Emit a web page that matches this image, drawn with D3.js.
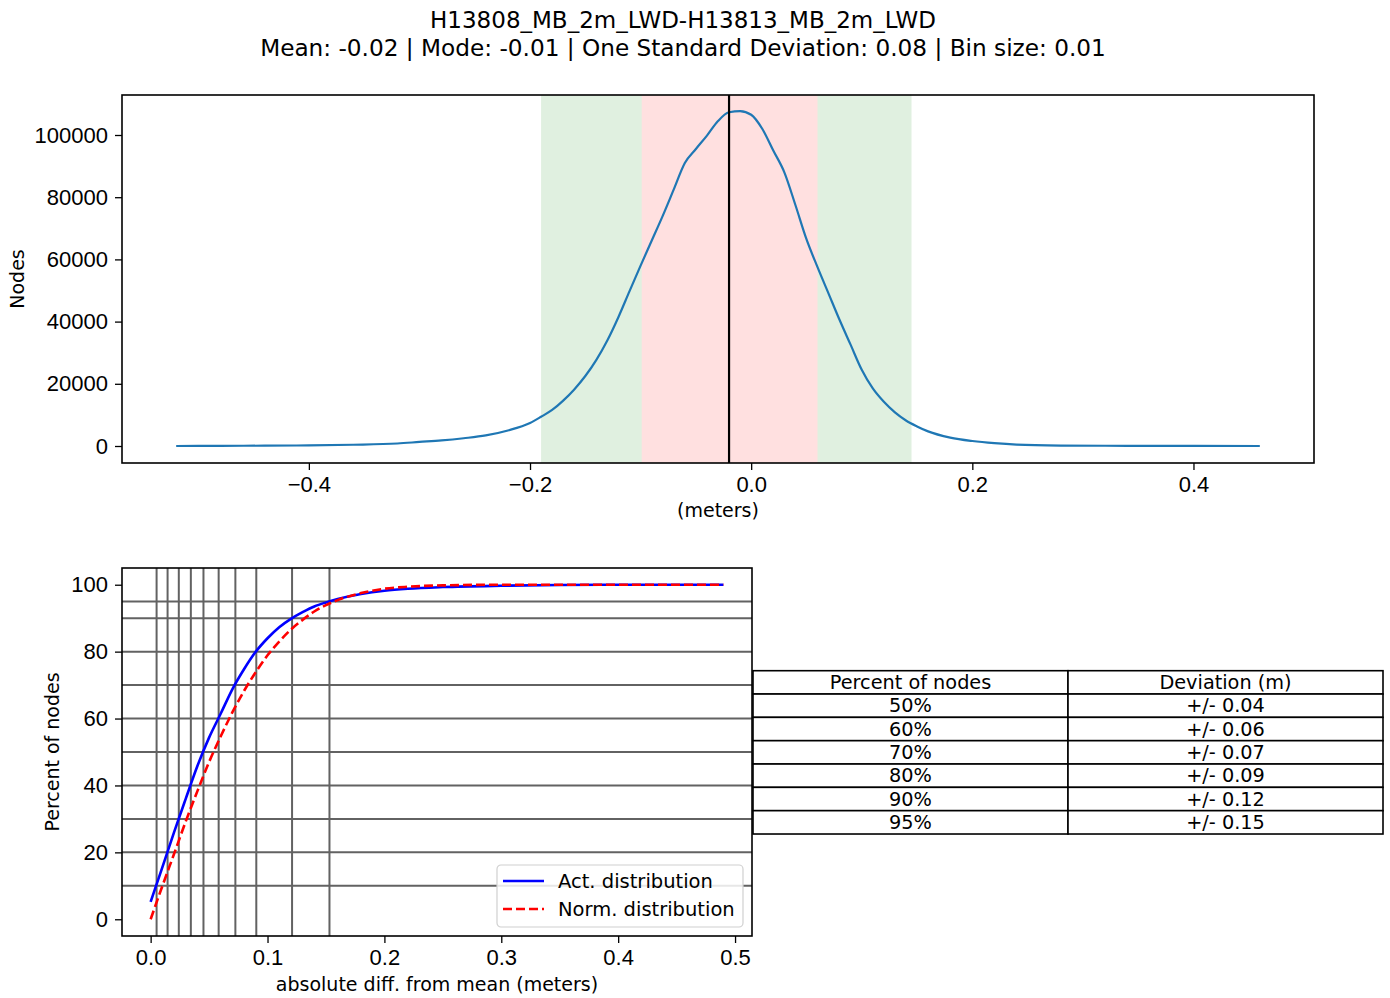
<!DOCTYPE html>
<html>
<head>
<meta charset="utf-8">
<script src="https://cdn.jsdelivr.net/npm/d3@7"></script>
<style>
  body { margin: 0; background: #fff; }
  svg { font-family: "DejaVu Sans", sans-serif; }
</style>
</head>
<body>
<svg id="chart" width="1390" height="998"></svg>
<script>
// histogram (bin centre in m, node count)
const binCenters = [-0.52, -0.48, -0.44, -0.40, -0.36, -0.32, -0.30, -0.28, -0.26, -0.24, -0.22, -0.20,
  -0.19, -0.18, -0.17, -0.16, -0.15, -0.14, -0.13, -0.12, -0.11, -0.10, -0.09, -0.08, -0.07, -0.06,
  -0.05, -0.04, -0.03, -0.02, -0.01, 0.00, 0.01, 0.02, 0.03, 0.04, 0.05, 0.06, 0.07, 0.08, 0.09,
  0.10, 0.11, 0.12, 0.13, 0.14, 0.15, 0.16, 0.18, 0.20, 0.22, 0.24, 0.28, 0.32, 0.36, 0.40, 0.46];
const nodeCounts = [0, 50, 100, 200, 400, 800, 1300, 1800, 2500, 3400, 5000, 7400,
  9400, 11600, 14600, 18200, 22500, 27700, 34000, 41500, 49800, 58000, 66000, 74000, 82500, 91000,
  95500, 99800, 104500, 107300, 107700, 106500, 102000, 95000, 88000, 77500, 66500, 57500, 49000, 40500, 32500,
  24500, 18500, 14200, 10800, 8200, 6300, 4700, 2700, 1600, 900, 450, 150, 80, 50, 20, 0];

const meanValue = -0.02;
// shaded bands (outer green, inner red)
const bandLo = [-0.19, -0.099];
const bandHi = [0.145, 0.06];
const bandColors = ["#e0f0e0", "#ffe0e0"];

const topXTicks = [-0.4, -0.2, 0.0, 0.2, 0.4];
const topYTicks = [0, 20000, 40000, 60000, 80000, 100000];

// cumulative curves
const diffX = [0.00, 0.01, 0.02, 0.03, 0.04, 0.05, 0.06, 0.07, 0.08, 0.09, 0.10, 0.11, 0.12, 0.13,
  0.14, 0.15, 0.16, 0.18, 0.20, 0.22, 0.25, 0.30, 0.35, 0.40, 0.49];
const actPercent = [5.2, 15.5, 26, 36, 45.8, 54.3, 61.5, 68.8, 74.8, 80, 84, 87.3, 89.8, 91.8,
  93.5, 94.7, 95.7, 97.2, 98.2, 98.8, 99.3, 99.7, 99.9, 100, 100];
const normPercent = [0, 9.9, 19.5, 29.2, 38.3, 47, 54.7, 61.9, 68.3, 73.9, 78.9, 83.0, 86.6, 89.5,
  92.0, 93.9, 95.4, 97.5, 98.8, 99.4, 99.8, 100, 100, 100, 100];

const percentLevels = [10, 20, 30, 40, 50, 60, 70, 80, 90, 95];
const percentDevs = [0.0051, 0.0145, 0.0241, 0.0344, 0.0452, 0.0582, 0.0725, 0.0904, 0.121, 0.153];

const bottomXTicks = [0.0, 0.1, 0.2, 0.3, 0.4, 0.5];
const bottomYTicks = [0, 20, 40, 60, 80, 100];

const tableHeader = ["Percent of nodes", "Deviation (m)"];
const tablePercents = ["50%", "60%", "70%", "80%", "90%", "95%"];
const tableDevs = ["+/- 0.04", "+/- 0.06", "+/- 0.07", "+/- 0.09", "+/- 0.12", "+/- 0.15"];

const svg = d3.select("#chart");
const FS = 19;
const TICK_FS = 22;

// titre
svg.append("text").attr("x", 683).attr("y", 28).attr("text-anchor", "middle")
  .style("font-size", "23px").text("H13808_MB_2m_LWD-H13813_MB_2m_LWD");
svg.append("text").attr("x", 683).attr("y", 56).attr("text-anchor", "middle")
  .style("font-size", "23.2px")
  .text("Mean: -0.02 | Mode: -0.01 | One Standard Deviation: 0.08 | Bin size: 0.01");

function styleAxis(sel) {
  sel.select(".domain").remove();
  sel.selectAll(".tick line").attr("stroke", "#000").attr("stroke-width", 1.3);
  sel.selectAll(".tick text").style("font-size", TICK_FS + "px").attr("fill", "#000");
}

// ---- top histogram ----
const t = { left: 122, top: 95, w: 1192, h: 368 };
const gt = svg.append("g").attr("transform", `translate(${t.left},${t.top})`);
const xT = d3.scaleLinear().domain([-0.569, 0.509]).range([0, t.w]);
const yT = d3.scaleLinear().domain([-5466, 112862]).range([t.h, 0]);

gt.selectAll(".band")
  .data(bandLo.map((lo, i) => ({ lo, hi: bandHi[i], c: bandColors[i] })))
  .enter().append("rect")
  .attr("x", d => xT(d.lo)).attr("width", d => xT(d.hi) - xT(d.lo))
  .attr("y", 0).attr("height", t.h).attr("fill", d => d.c);

gt.append("path")
  .datum(binCenters.map((x, i) => [x, nodeCounts[i]]))
  .attr("fill", "none").attr("stroke", "#1f77b4").attr("stroke-width", 2.2)
  .attr("d", d3.line().x(d => xT(d[0])).y(d => yT(d[1])).curve(d3.curveMonotoneX));

gt.append("line")
  .attr("x1", xT(meanValue)).attr("x2", xT(meanValue))
  .attr("y1", 0).attr("y2", t.h).attr("stroke", "#000").attr("stroke-width", 2.2);

gt.append("g").attr("transform", `translate(0,${t.h})`)
  .call(d3.axisBottom(xT).tickValues(topXTicks).tickFormat(d3.format(".1f")).tickSize(7).tickPadding(6))
  .call(styleAxis);
gt.append("g")
  .call(d3.axisLeft(yT).tickValues(topYTicks).tickFormat(d3.format("d")).tickSize(7).tickPadding(7))
  .call(styleAxis);
gt.append("rect").attr("width", t.w).attr("height", t.h)
  .attr("fill", "none").attr("stroke", "#000").attr("stroke-width", 1.6);

svg.append("text").attr("x", t.left + t.w / 2).attr("y", 517).attr("text-anchor", "middle")
  .style("font-size", FS + "px").text("(meters)");
svg.append("text").attr("transform", `translate(24,${t.top + t.h / 2}) rotate(-90)`)
  .attr("text-anchor", "middle").style("font-size", FS + "px").text("Nodes");

// ---- bottom cumulative ----
const b = { left: 122, top: 568, w: 630, h: 368 };
const gb = svg.append("g").attr("transform", `translate(${b.left},${b.top})`);
const xB = d3.scaleLinear().domain([-0.0245, 0.5145]).range([0, b.w]);
const yB = d3.scaleLinear().domain([-5, 105]).range([b.h, 0]);

gb.selectAll(".hline").data(percentLevels).enter().append("line")
  .attr("x1", 0).attr("x2", b.w).attr("y1", d => yB(d)).attr("y2", d => yB(d))
  .attr("stroke", "#626262").attr("stroke-width", 2);
gb.selectAll(".vline").data(percentDevs).enter().append("line")
  .attr("y1", 0).attr("y2", b.h).attr("x1", d => xB(d)).attr("x2", d => xB(d))
  .attr("stroke", "#626262").attr("stroke-width", 2);

const cumLine = d3.line().x(d => xB(d[0])).y(d => yB(d[1])).curve(d3.curveMonotoneX);
gb.append("path").datum(diffX.map((x, i) => [x, actPercent[i]]))
  .attr("fill", "none").attr("stroke", "#0000ff").attr("stroke-width", 2.6).attr("d", cumLine);
gb.append("path").datum(diffX.map((x, i) => [x, normPercent[i]]))
  .attr("fill", "none").attr("stroke", "#ff0000").attr("stroke-width", 2.6)
  .attr("stroke-dasharray", "9,4").attr("d", cumLine);

gb.append("g").attr("transform", `translate(0,${b.h})`)
  .call(d3.axisBottom(xB).tickValues(bottomXTicks).tickFormat(d3.format(".1f")).tickSize(7).tickPadding(6))
  .call(styleAxis);
gb.append("g")
  .call(d3.axisLeft(yB).tickValues(bottomYTicks).tickFormat(d3.format("d")).tickSize(7).tickPadding(7))
  .call(styleAxis);
gb.append("rect").attr("width", b.w).attr("height", b.h)
  .attr("fill", "none").attr("stroke", "#000").attr("stroke-width", 1.6);

// legende
const lg = svg.append("g").attr("transform", "translate(497,865)");
lg.append("rect").attr("width", 246).attr("height", 62).attr("rx", 4)
  .attr("fill", "#fff").attr("fill-opacity", 0.85).attr("stroke", "#d0d0d0").attr("stroke-width", 1.2);
const legendItems = [
  { label: "Act. distribution", color: "#0000ff", dash: null },
  { label: "Norm. distribution", color: "#ff0000", dash: "9,4" }
];
legendItems.forEach((d, i) => {
  const y = 16 + i * 28;
  lg.append("line").attr("x1", 6).attr("x2", 47).attr("y1", y).attr("y2", y)
    .attr("stroke", d.color).attr("stroke-width", 2.6).attr("stroke-dasharray", d.dash);
  lg.append("text").attr("x", 61).attr("y", y).attr("dy", "0.35em")
    .style("font-size", "19.5px").text(d.label);
});

svg.append("text").attr("x", b.left + b.w / 2).attr("y", 991).attr("text-anchor", "middle")
  .style("font-size", FS + "px").text("absolute diff. from mean (meters)");
svg.append("text").attr("transform", `translate(59,${b.top + b.h / 2}) rotate(-90)`)
  .attr("text-anchor", "middle").style("font-size", FS + "px").text("Percent of nodes");

// ---- tableau ----
const tb = { x0: 753, xm: 1068, x1: 1383, top: 670.7, rowH: 23.33 };
const rows = [tableHeader].concat(tablePercents.map((p, i) => [p, tableDevs[i]]));
const gtab = svg.append("g");
rows.forEach((r, i) => {
  const y = tb.top + i * tb.rowH;
  gtab.append("rect").attr("x", tb.x0).attr("y", y).attr("width", tb.xm - tb.x0).attr("height", tb.rowH)
    .attr("fill", "#fff").attr("stroke", "#000").attr("stroke-width", 1.6);
  gtab.append("rect").attr("x", tb.xm).attr("y", y).attr("width", tb.x1 - tb.xm).attr("height", tb.rowH)
    .attr("fill", "#fff").attr("stroke", "#000").attr("stroke-width", 1.6);
  gtab.append("text").attr("x", (tb.x0 + tb.xm) / 2).attr("y", y + tb.rowH / 2).attr("dy", "0.35em")
    .attr("text-anchor", "middle").style("font-size", "19.3px").text(r[0]);
  gtab.append("text").attr("x", (tb.xm + tb.x1) / 2).attr("y", y + tb.rowH / 2).attr("dy", "0.35em")
    .attr("text-anchor", "middle").style("font-size", "19.3px").text(r[1]);
});
</script>
</body>
</html>
